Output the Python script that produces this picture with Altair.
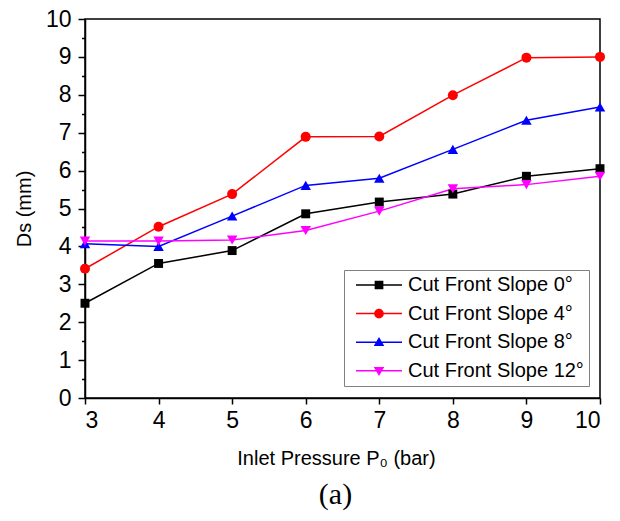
import altair as alt
import pandas as pd

# ---- data ----
pressure = [3, 4, 5, 6, 7, 8, 9, 10]
series_names = ["Cut Front Slope 0°", "Cut Front Slope 4°",
                "Cut Front Slope 8°", "Cut Front Slope 12°"]
ds_slope0 = [2.50, 3.55, 3.89, 4.86, 5.17, 5.38, 5.85, 6.05]
ds_slope4 = [3.41, 4.52, 5.38, 6.89, 6.90, 7.99, 8.98, 9.00]
ds_slope8 = [4.07, 4.00, 4.80, 5.61, 5.80, 6.56, 7.33, 7.68]
ds_slope12 = [4.14, 4.14, 4.17, 4.42, 4.93, 5.52, 5.63, 5.85]
x_ticks = [3, 4, 5, 6, 7, 8, 9, 10]
y_ticks = [i * 0.5 for i in range(21)]

# ---- styles ----
colors = ["#000000", "#ff0000", "#0000ff", "#ff00ff"]
marker_shapes = ["square", "circle", "triangle-up", "triangle-down"]
marker_sizes = [80, 100, 110, 110]
# legend glyphs: a thin bar (the line sample) plus the marker, all filled
BAR = "M-1,-0.033H1V0.033H-1Z"
legend_paths = [
    BAR + "M-0.19,-0.19H0.19V0.19H-0.19Z",
    BAR + "M0.21,0A0.21,0.21,0,1,1,-0.21,0A0.21,0.21,0,1,1,0.21,0Z",
    BAR + "M0,-0.23L0.23,0.16L-0.23,0.16Z",
    BAR + "M0,0.23L-0.23,-0.16L0.23,-0.16Z",
]
FONT = "Liberation Sans"

rows = []
for name, vals in zip(series_names, [ds_slope0, ds_slope4, ds_slope8, ds_slope12]):
    for p, v in zip(pressure, vals):
        rows.append({"pressure": p, "ds": v, "series": name})
df = pd.DataFrame(rows)

x_enc = alt.X("pressure:Q",
              scale=alt.Scale(domain=[3, 10], nice=False, zero=False),
              axis=alt.Axis(values=x_ticks, title="Inlet Pressure P₀ (bar)",
                            tickSize=6, labelPadding=5, labelFontSize=23,
                            titleFontSize=20, titleX=251, titleY=60,
                            titleBaseline="middle", titleAlign="center"))
y_enc = alt.Y("ds:Q",
              scale=alt.Scale(domain=[0, 10], nice=False),
              axis=alt.Axis(values=y_ticks, title="Ds (mm)", format=".0f",
                            labelExpr="datum.value % 1 === 0 ? datum.label : ''",
                            tickSize={"condition": {"test": "datum.value % 1 === 0", "value": 7}, "value": 3.5},
                            labelPadding=7, labelFontSize=23,
                            titleFontSize=20, titleAngle=-90,
                            titleX=-61, titleY=189.5,
                            titleBaseline="middle", titleAlign="center"))

lines = alt.Chart(df).mark_line(strokeWidth=1.5).encode(
    x=x_enc, y=y_enc,
    stroke=alt.Stroke("series:N", scale=alt.Scale(domain=series_names, range=colors), legend=None),
    order="pressure:Q",
)

point_layers = []
for name, col, shp, sz in zip(series_names, colors, marker_shapes, marker_sizes):
    point_layers.append(
        alt.Chart(df).mark_point(filled=True, opacity=1, size=sz, shape=shp, color=col)
        .encode(x=x_enc, y=y_enc)
        .transform_filter(alt.datum.series == name)
    )

leg = alt.Legend(
    title=None, orient="none", legendX=259, legendY=251,
    strokeColor="#808080", fillColor="white", padding=5,
    labelFontSize=20, labelFont=FONT, labelColor="black",
    symbolOffset=7, labelOffset=6, symbolSize=2116, symbolStrokeWidth=0,
    clipHeight=20, rowPadding=8.6, labelLimit=400)

legend_layer = alt.Chart(df).mark_point(filled=True, opacity=1, strokeWidth=0).encode(
    x=x_enc, y=y_enc,
    color=alt.Color("series:N", scale=alt.Scale(domain=series_names, range=colors), legend=leg),
    shape=alt.Shape("series:N", scale=alt.Scale(domain=series_names, range=legend_paths), legend=leg),
).transform_filter("false")

chart = alt.layer(lines, *point_layers, legend_layer).resolve_scale(
    shape="independent", color="independent"
).properties(
    width=515, height=379,
    autosize=alt.AutoSizeParams(type="none"),
    padding={"left": 77, "top": 11, "right": 12, "bottom": 115},
    title=alt.TitleParams(text="(a)", orient="bottom", font="Liberation Serif",
                          fontSize=30, fontWeight="normal", anchor="middle",
                          color="black", offset=12, dx=-7),
).configure_view(
    stroke="black", strokeWidth=1.5
).configure_axis(
    grid=False, labelFont=FONT, titleFont=FONT, labelColor="black",
    titleColor="black", domainColor="black", tickColor="black",
    domainWidth=1.5, tickWidth=1.5, titleFontWeight="normal",
)

chart.save("out.html", embed_options={"renderer": "svg", "actions": False})
